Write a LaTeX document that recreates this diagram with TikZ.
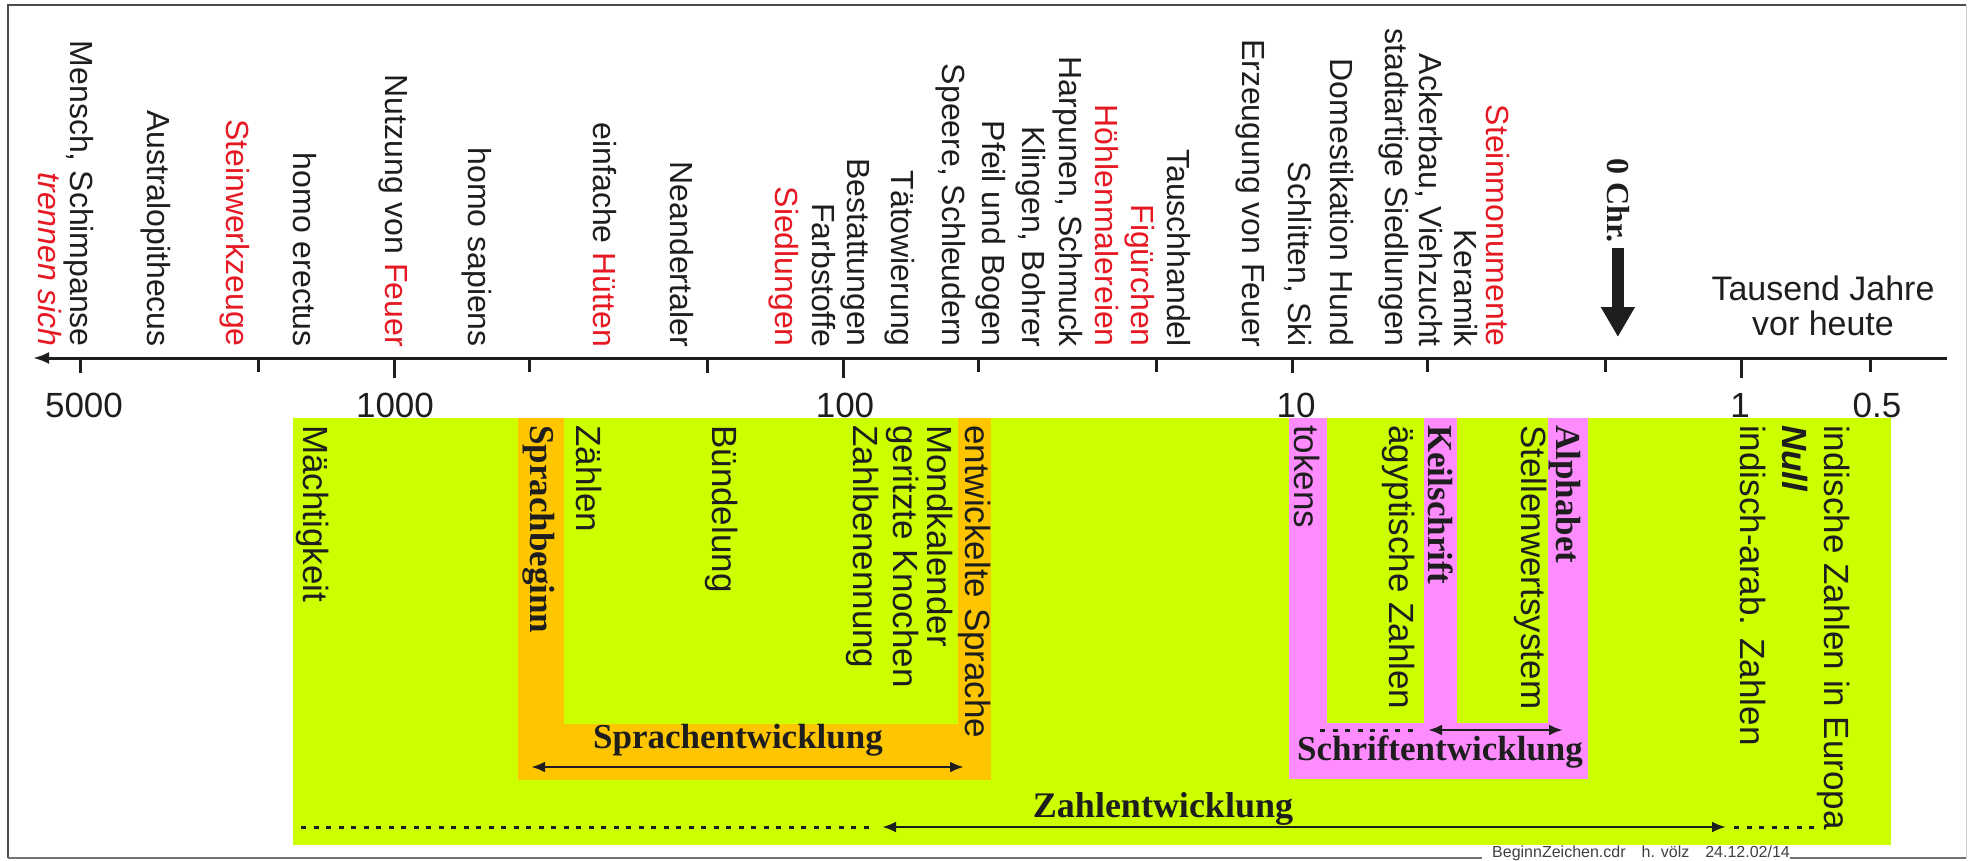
\documentclass[tikz,border=0pt]{standalone}
\usepackage{fontspec}
\setmainfont{Liberation Sans}
\newfontfamily\tnr{Liberation Serif}
\usetikzlibrary{arrows.meta}
\definecolor{lime}{RGB}{204,255,0}
\definecolor{orng}{RGB}{255,198,0}
\definecolor{pnk}{RGB}{255,140,255}
\definecolor{redt}{RGB}{230,25,35}
\definecolor{ink}{RGB}{30,30,30}
\begin{document}
\begin{tikzpicture}[x=1pt,y=-1pt,
  toplab/.style={rotate=-90,anchor=base east,inner sep=0pt,font=\fontsize{32}{36}\selectfont,text=ink},
  botlab/.style={rotate=-90,anchor=base west,inner sep=0pt,font=\fontsize{35}{40}\selectfont,text=ink},
  botbold/.style={rotate=-90,anchor=base west,inner sep=0pt,font=\fontsize{35}{40}\selectfont\tnr\bfseries,text=ink},
  hlab/.style={anchor=base,inner sep=0pt,font=\fontsize{35}{40}\selectfont\tnr\bfseries,text=ink},
  axlab/.style={anchor=base,inner sep=0pt,font=\fontsize{35}{40}\selectfont,text=ink},
  dbl/.style={line width=2.8pt,draw=ink,{Latex[length=14pt,width=11pt]}-{Latex[length=14pt,width=11pt]}},
  dots/.style={line width=3pt,draw=ink,dash pattern=on 5pt off 7.5pt},
  tickl/.style={line width=3pt,draw=ink},
]
\useasboundingbox (0,0) rectangle (1970,860);
% frame
\draw[line width=2.5pt,draw=black!70] (8,858) -- (8,5) -- (1966,5);
\draw[line width=1pt,draw=black!20] (1966,5) -- (1966,858);
\draw[line width=2.5pt,draw=black!55] (8,858) -- (1482,858);
\draw[line width=2.5pt,draw=black!55] (1790,858) -- (1966,858);
\node[anchor=base west,inner sep=0pt,font=\fontsize{16}{19}\selectfont,text=black!75] (foot) at (1492,857) {BeginnZeichen.cdr\quad h. v\"olz\quad 24.12.02/14};

% coloured areas
\fill[lime] (293,418) rectangle (1891,845);
\fill[orng] (518,418) rectangle (991,780);
\fill[lime] (564,418) rectangle (958,724);
\fill[pnk] (1289,418) rectangle (1588,779);
\fill[lime] (1327,418) rectangle (1424,723);
\fill[lime] (1457,418) rectangle (1548,723);

% axis
\coordinate (axR) at (1947,358);
\coordinate (axL) at (33,358);
\draw[line width=3pt,draw=ink,-{Latex[length=16pt,width=12pt]}] (axR) -- (axL);
\foreach \v/\len in {5000/15,2000/14,1000/20,500/14,200/15,100/20,50/14,20/14,10/15,5/14,2/14,1/20}{
  \pgfmathsetmacro{\xx}{1741-449*log10(\v)}
  \draw[tickl] (\xx,358) -- (\xx,358+\len);
}
\draw[tickl] (1870,358) -- (1870,372);
\node[axlab] (l5000) at (84,417) {5000};
\node[axlab] (l1000) at (395,417) {1000};
\node[axlab] (l100) at (845,417) {100};
\node[axlab] (l10) at (1296,417) {10};
\node[axlab] (l1) at (1740,417) {1};
\node[axlab] (l05) at (1877,417) {0.5};
\node[anchor=base,inner sep=0pt,font=\fontsize{34}{36}\selectfont,text=ink] (tj1) at (1823,300) {Tausend Jahre};
\node[anchor=base,inner sep=0pt,font=\fontsize{34}{36}\selectfont,text=ink] (tj2) at (1823,335) {vor heute};

% top labels
\node[toplab] (a1) at (70.5,347) {Mensch, Schimpanse};
\node[toplab,text=redt,font=\fontsize{32}{36}\selectfont\itshape] (a2) at (38.5,347) {trennen sich};
\node[toplab] (a3) at (147.5,347) {Australopithecus};
\node[toplab,text=redt] (a4) at (226.5,347) {Steinwerkzeuge};
\node[toplab] (a5) at (293.5,347) {homo erectus};
\node[toplab] (a6) at (385.5,347) {Nutzung von \textcolor{redt}{Feuer}};
\node[toplab] (a7) at (468.5,347) {homo sapiens};
\node[toplab] (a8) at (593.5,347) {einfache \textcolor{redt}{H\"utten}};
\node[toplab] (a9) at (670.5,347) {Neandertaler};
\node[toplab,text=redt] (a10) at (775.5,347) {Siedlungen};
\node[toplab] (a11) at (812.5,347) {Farbstoffe};
\node[toplab] (a12) at (847.5,347) {Bestattungen};
\node[toplab] (a13) at (891.5,347) {T\"atowierung};
\node[toplab] (a14) at (942.5,347) {Speere, Schleudern};
\node[toplab] (a15) at (982.5,347) {Pfeil und Bogen};
\node[toplab] (a16) at (1022.5,347) {Klingen, Bohrer};
\node[toplab] (a17) at (1059.5,347) {Harpunen, Schmuck};
\node[toplab,text=redt] (a18) at (1095.5,347) {H\"ohlenmalereien};
\node[toplab,text=redt] (a19) at (1131.5,347) {Fig\"urchen};
\node[toplab] (a20) at (1167.5,347) {Tauschhandel};
\node[toplab] (a21) at (1242.5,347) {Erzeugung von Feuer};
\node[toplab] (a22) at (1288.5,347) {Schlitten, Ski};
\node[toplab] (a23) at (1330.5,347) {Domestikation Hund};
\node[toplab] (a24) at (1385.5,347) {stadtartige Siedlungen};
\node[toplab] (a25) at (1419.5,347) {Ackerbau, Viehzucht};
\node[toplab] (a26) at (1454.5,347) {Keramik};
\node[toplab,text=redt] (a27) at (1486.5,347) {Steinmonumente};

% 0 Chr.
\node[rotate=-90,anchor=base west,inner sep=0pt,font=\fontsize{32}{36}\selectfont\tnr\bfseries,text=ink] (chr) at (1607,158) {0 Chr.};
\coordinate (lvl) at (0,337);
\coordinate (chrtip) at (chr.east |- lvl);
\draw[line width=12pt,draw=ink,-{Triangle[length=30pt,width=32pt]}] (chr.east) ++(0,5) -- (chrtip);

% bottom labels
\node[botlab] (b1) at (303.4,425) {M\"achtigkeit};
\node[botbold] (b2) at (530,425) {Sprachbeginn};
\node[botlab] (b3) at (576,425) {Z\"ahlen};
\node[botlab] (b4) at (712.4,425) {B\"undelung};
\node[botlab] (b5) at (853.4,425) {Zahlbenennung};
\node[botlab] (b6) at (893.4,425) {geritzte Knochen};
\node[botlab] (b7) at (927.4,425) {Mondkalender};
\node[botlab] (b8) at (965.4,425) {entwickelte Sprache};
\node[botlab] (b9) at (1294.4,425) {tokens};
\node[botlab] (b10) at (1389.4,425) {\"agyptische Zahlen};
\node[botbold] (b11) at (1428.4,425) {Keilschrift};
\node[botlab] (b12) at (1521.4,425) {Stellenwertsystem};
\node[botbold] (b13) at (1556.4,425) {Alphabet};
\node[botlab] (b14) at (1740.4,425) {indisch-arab. Zahlen};
\node[botlab,font=\fontsize{35}{40}\selectfont\bfseries\itshape] (b15) at (1782.4,425) {Null};
\node[botlab] (b16) at (1824.4,425) {indische Zahlen in Europa};

% development labels and arrows
\node[hlab] (spr) at (738,748) {Sprachentwicklung};
\coordinate (sprL) at (531,767);
\coordinate (sprR) at (964,767);
\draw[dbl] (sprL) -- (sprR);

\node[hlab] (sch) at (1440,760) {Schriftentwicklung};
\coordinate (schD) at (1320,730);
\coordinate (schE) at (1420,730);
\coordinate (schL) at (1428,730);
\coordinate (schR) at (1563,730);
\draw[dots] (schD) -- (schE);
\draw[dbl] (schL) -- (schR);

\node[hlab,font=\fontsize{36}{40}\selectfont\tnr\bfseries] (zahl) at (1163,817) {Zahlentwicklung};
\coordinate (zD1) at (301,827);
\coordinate (zD2) at (870,827);
\coordinate (zL) at (882,827);
\coordinate (zR) at (1726,827);
\coordinate (zD3) at (1734,827);
\coordinate (zD4) at (1818,827);
\draw[dots] (zD1) -- (zD2);
\draw[dbl] (zL) -- (zR);
\draw[dots] (zD3) -- (zD4);
\end{tikzpicture}
\end{document}
